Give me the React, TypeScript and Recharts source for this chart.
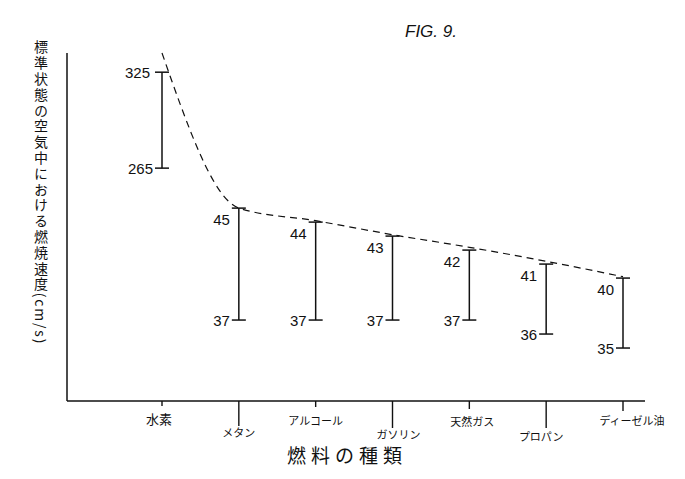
import React from "react";
import {
  ComposedChart,
  ErrorBar,
  Label,
  LabelList,
  Line,
  XAxis,
  YAxis,
} from "recharts";

const fuels = ["水素", "メタン", "アルコール", "ガソリン", "天然ガス", "プロパン", "ディーゼル油"];
const minSpeed = [265, 37, 37, 37, 37, 36, 35];
const maxSpeed = [325, 45, 44, 43, 42, 41, 40];
// hand-drawn envelope running over the top of each range
const envelopeSpeed = [337, 45.3, 44.1, 43.1, 42.2, 41.2, 40.1];

// broken axis: 35–45 at full step, 45–265 squeezed, 265 and up at a small step
const toAxis = (v: number) => {
  if (v <= 45) return v - 35;
  if (v <= 265) return 10 + ((v - 45) / 220) * (40 / 14);
  return 10 + 40 / 14 + (v - 265) * (1.6 / 14);
};

const data = fuels.map((name, i) => ({
  name,
  lo: minSpeed[i],
  hi: maxSpeed[i],
  loPos: toAxis(minSpeed[i]),
  hiPos: toAxis(maxSpeed[i]),
  envPos: toAxis(envelopeSpeed[i]),
}));

const INK = "#111";
const DIGITS = "'Liberation Sans', Arial, sans-serif";
const JP = "'Noto Sans CJK JP', sans-serif";

// tick lengths and label drops alternate like the drawing
const tickDrop = [5, 25, 6, 27, 8, 27, 10];
const labelDrop = [17, 31, 19, 33, 20, 35, 19];
const labelShift = [-3, 0, 0, 6, 3, -5, 9];

function FuelTick(props: any) {
  const { x, y, payload } = props;
  const i = payload.index ?? props.index ?? 0;
  return (
    <g>
      <line x1={x} y1={y} x2={x} y2={y + tickDrop[i]} stroke={INK} strokeWidth={1.4} />
      <text
        x={x + labelShift[i]}
        y={y + labelDrop[i]}
        textAnchor="middle"
        dominantBaseline="central"
        fontSize={i === 0 ? 13 : 11}
        fontFamily={JP}
        fill={INK}
      >
        {payload.value}
      </text>
    </g>
  );
}

const renderHiLabel = (props: any) => {
  const { x, y, index } = props;
  const first = index === 0;
  return (
    <text
      x={x - (first ? 12 : 9)}
      y={y + (first ? 0 : 11)}
      textAnchor="end"
      dominantBaseline="central"
      fontSize={15}
      fontFamily={DIGITS}
      fill={INK}
    >
      {maxSpeed[index]}
    </text>
  );
};

const renderLoLabel = (props: any) => {
  const { x, y, index } = props;
  return (
    <text
      x={x - 9}
      y={y}
      textAnchor="end"
      dominantBaseline="central"
      fontSize={15}
      fontFamily={DIGITS}
      fill={INK}
    >
      {minSpeed[index]}
    </text>
  );
};

const renderYTitle = (props: any) => {
  const { viewBox } = props;
  return (
    <text
      x={viewBox.x + viewBox.width - 26}
      y={viewBox.y - 13}
      fontSize={14}
      fontFamily={JP}
      fill={INK}
      style={{ writingMode: "vertical-rl", letterSpacing: "1.8px" }}
    >
      標準状態の空気中における燃焼速度(cm/s)
    </text>
  );
};

const renderXTitle = (props: any) => {
  const { viewBox } = props;
  return (
    <text
      x={viewBox.x + viewBox.width / 2 - 9}
      y={viewBox.y + viewBox.height - 8}
      textAnchor="middle"
      fontSize={19}
      fontFamily={JP}
      fill={INK}
      style={{ letterSpacing: "5px" }}
    >
      燃料の種類
    </text>
  );
};

export default function App() {
  return (
    <div style={{ position: "relative", width: 669, height: 463 }}>
      <div
        style={{
          position: "absolute",
          left: 397,
          top: 14,
          fontFamily: DIGITS,
          fontStyle: "italic",
          fontSize: 17,
          color: INK,
        }}
      >
        FIG. 9.
      </div>
      <ComposedChart
        width={669}
        height={463}
        data={data}
        margin={{ top: 45, right: 32, bottom: 0, left: 0 }}
      >
        <XAxis
          dataKey="name"
          type="category"
          scale="point"
          padding={{ left: 95, right: 22 }}
          height={70}
          interval={0}
          tickSize={0}
          tickMargin={0}
          tickLine={false}
          axisLine={{ stroke: INK, strokeWidth: 1.5 }}
          tick={<FuelTick />}
        >
          <Label content={renderXTitle} />
        </XAxis>
        <YAxis
          type="number"
          width={59}
          domain={[-53 / 14, 295 / 14]}
          tick={false}
          tickLine={false}
          axisLine={{ stroke: INK, strokeWidth: 1.5 }}
        >
          <Label content={renderYTitle} />
        </YAxis>
        <Line
          dataKey="envPos"
          type="monotone"
          stroke={INK}
          strokeWidth={1.2}
          strokeDasharray="7 5"
          dot={false}
          activeDot={false}
          isAnimationActive={false}
        />
        <Line
          dataKey="hiPos"
          stroke="none"
          dot={false}
          activeDot={false}
          isAnimationActive={false}
        >
          <ErrorBar
            dataKey={(d: any) => [d.hiPos - d.loPos, 0]}
            direction="y"
            width={7}
            stroke={INK}
            strokeWidth={1.5}
            isAnimationActive={false}
          />
          <LabelList dataKey="hi" content={renderHiLabel} />
        </Line>
        <Line
          dataKey="loPos"
          stroke="none"
          dot={false}
          activeDot={false}
          isAnimationActive={false}
        >
          <LabelList dataKey="lo" content={renderLoLabel} />
        </Line>
      </ComposedChart>
    </div>
  );
}
